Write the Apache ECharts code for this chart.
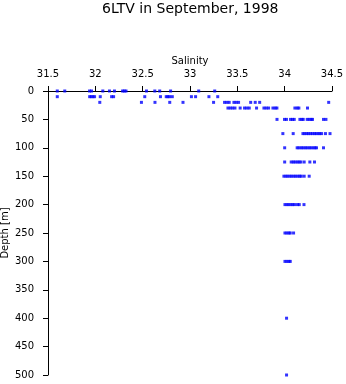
<!DOCTYPE html>
<html>
<head>
<meta charset="utf-8">
<script src="https://cdn.jsdelivr.net/npm/echarts@6/dist/echarts.min.js"></script>
<style>
html,body{margin:0;padding:0;background:#fff;}
#chart{width:346px;height:384px;}
</style>
</head>
<body>
<div id="chart"></div>
<script>
var titleText = '6LTV in September, 1998';
var xTicks = [31.5, 32, 32.5, 33, 33.5, 34, 34.5];
var yTicks = [0, 50, 100, 150, 200, 250, 300, 350, 400, 450, 500];

var depths = [0, 10, 20, 30, 50, 75, 100, 125, 150, 200, 250, 300, 400, 500];

var sal0 = [31.598, 31.677, 31.939, 31.96, 32.079, 32.149, 32.202, 32.288, 32.306, 32.324, 32.54, 32.628, 32.68, 32.795, 33.092, 33.261];
var sal10 = [31.598, 31.94, 31.957, 31.975, 31.992, 32.052, 32.172, 32.193, 32.522, 32.688, 32.749, 32.766, 32.784, 32.813, 33.015, 33.059, 33.2, 33.293];
var sal20 = [32.047, 32.487, 32.63, 32.786, 32.926, 33.249, 33.365, 33.39, 33.414, 33.464, 33.488, 33.513, 33.641, 33.689, 33.736, 34.465];
var sal30 = [33.401, 33.425, 33.45, 33.475, 33.53, 33.576, 33.601, 33.626, 33.703, 33.781, 33.805, 33.83, 33.876, 33.9, 33.918, 34.108, 34.133, 34.15, 34.241];
var sal50 = [33.919, 33.998, 34.019, 34.062, 34.083, 34.101, 34.161, 34.182, 34.196, 34.238, 34.259, 34.28, 34.294, 34.41, 34.436];
var sal75 = [33.981, 34.09, 34.193, 34.212, 34.234, 34.251, 34.274, 34.292, 34.315, 34.332, 34.354, 34.371, 34.39, 34.431, 34.479];
var sal100 = [34.0, 34.132, 34.151, 34.175, 34.194, 34.217, 34.236, 34.259, 34.278, 34.301, 34.32, 34.336, 34.41];
var sal125 = [34.0, 34.069, 34.091, 34.11, 34.133, 34.152, 34.171, 34.206, 34.266, 34.315];
var sal150 = [33.992, 34.014, 34.033, 34.056, 34.075, 34.098, 34.117, 34.14, 34.159, 34.175, 34.206, 34.259];
var sal200 = [34.003, 34.025, 34.044, 34.067, 34.086, 34.105, 34.136, 34.154, 34.204];
var sal250 = [34.003, 34.024, 34.045, 34.059, 34.094];
var sal300 = [34.003, 34.024, 34.045, 34.059];
var sal400 = [34.02];
var sal500 = [34.02];

var salinityByDepth = [sal0, sal10, sal20, sal30, sal50, sal75, sal100, sal125, sal150, sal200, sal250, sal300, sal400, sal500];

var points = [];
for (var i = 0; i < depths.length; i++) {
  var row = salinityByDepth[i];
  for (var j = 0; j < row.length; j++) points.push([row[j], depths[i]]);
}

var font = 'DejaVu Sans';
var chart = echarts.init(document.getElementById('chart'), null, {renderer: 'canvas'});
chart.setOption({
  animation: false,
  backgroundColor: '#fff',
  title: {
    text: titleText,
    left: 102,
    top: 2,
    padding: 0,
    textStyle: {fontFamily: font, fontSize: 14, fontWeight: 'normal', color: '#000'}
  },
  grid: {left: 48, right: 14, top: 91, bottom: 9, containLabel: false, outerBoundsMode: 'none'},
  xAxis: {
    type: 'value',
    position: 'top',
    min: xTicks[0],
    max: xTicks[xTicks.length - 1],
    interval: 0.5,
    name: 'Salinity',
    nameLocation: 'middle',
    nameGap: 25,
    nameMoveOverlap: false,
    nameTextStyle: {fontFamily: font, fontSize: 10, color: '#000'},
    axisLine: {show: true, onZero: false, lineStyle: {color: '#000', width: 1}},
    axisTick: {show: true, inside: false, length: 5, lineStyle: {color: '#000'}},
    axisLabel: {fontFamily: font, fontSize: 10, color: '#000', margin: 12},
    splitLine: {show: false}
  },
  yAxis: {
    type: 'value',
    inverse: true,
    min: yTicks[0],
    max: yTicks[yTicks.length - 1],
    interval: 50,
    name: 'Depth [m]',
    nameLocation: 'middle',
    nameGap: 38,
    nameMoveOverlap: false,
    nameTextStyle: {fontFamily: font, fontSize: 10, color: '#000'},
    axisLine: {show: true, onZero: false, lineStyle: {color: '#000', width: 1}},
    axisTick: {show: true, inside: false, length: 5, lineStyle: {color: '#000'}},
    axisLabel: {fontFamily: font, fontSize: 10, color: '#000', margin: 14},
    splitLine: {show: false}
  },
  series: [{
    type: 'scatter',
    data: points,
    symbol: 'rect',
    symbolSize: 3,
    itemStyle: {color: '#0000ff'},
    silent: true
  }]
});
</script>
</body>
</html>
